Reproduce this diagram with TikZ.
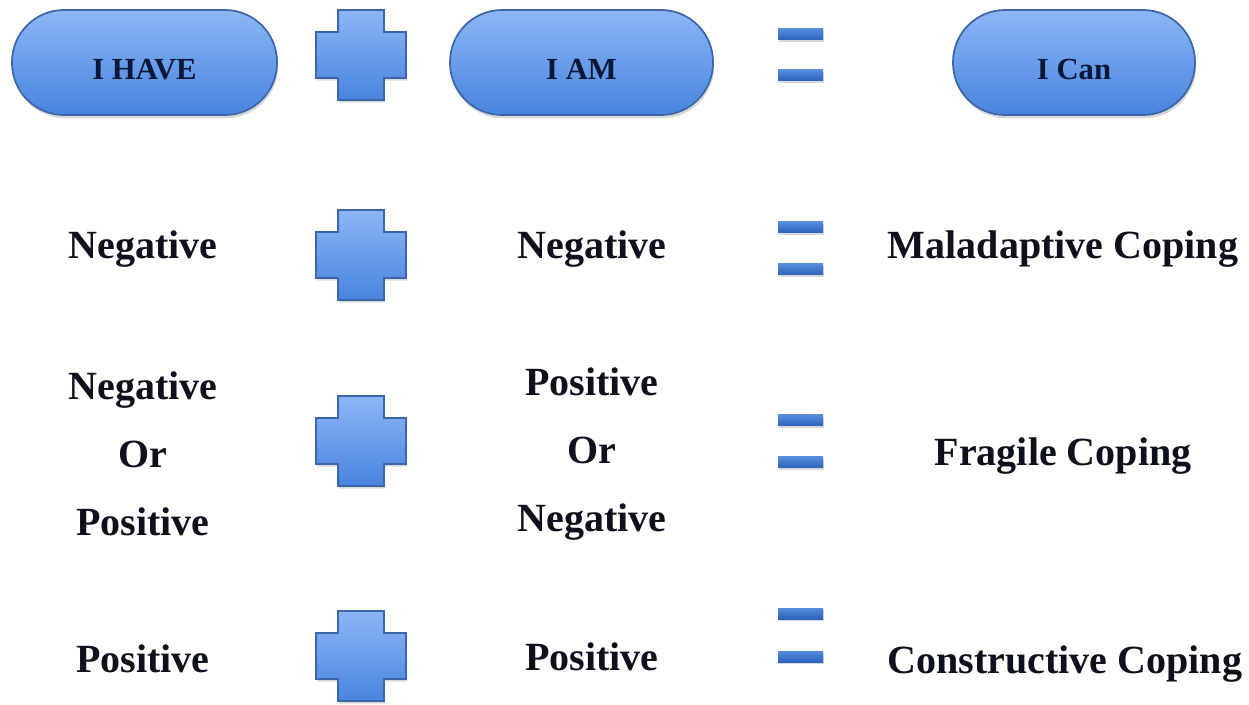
\documentclass[tikz,border=0pt]{standalone}
\usepackage{fontspec}
\setmainfont{Liberation Serif}
\usetikzlibrary{shadows}

\definecolor{pilltop}{RGB}{140,182,246}
\definecolor{pillbot}{RGB}{72,132,222}
\definecolor{pillline}{RGB}{60,102,168}
\definecolor{bartop}{RGB}{86,140,220}
\definecolor{barbot}{RGB}{44,98,188}
\definecolor{inktext}{RGB}{14,16,28}
\definecolor{pillink}{RGB}{10,24,58}

\tikzset{every picture/.style={line width=0.35pt}}
\tikzset{
  pill/.style={draw=pillline, line width=1.3pt, top color=pilltop, bottom color=pillbot,
    minimum height=78.75pt, rounded corners=39pt, text=pillink,
    text height=25.5pt, text depth=0pt,
    font=\fontsize{23}{27}\selectfont\bfseries,
    drop shadow={shadow xshift=0.8pt, shadow yshift=-2.5pt, opacity=0.3}},
  plusmark/.style={draw=pillline, line width=1.1pt, top color=pilltop, bottom color=pillbot,
    drop shadow={shadow xshift=0.8pt, shadow yshift=-2pt, opacity=0.3}},
  eqbar/.style={draw=none, top color=bartop, bottom color=barbot,
    drop shadow={shadow xshift=0.6pt, shadow yshift=-1.5pt, opacity=0.3}},
  word/.style={text=inktext, align=center, font=\fontsize{30}{51}\selectfont\bfseries}
}

\begin{document}
\begin{tikzpicture}[x=0.75pt,y=0.75pt,yscale=-1]
  \useasboundingbox[fill=white] (0,0) rectangle (1249,705);

  % header row
  \node [pill, minimum width=198.75pt] (have) at (144.5,62.5) {I HAVE};
  \node [pill, minimum width=197.25pt] (am) at (581.5,62.5) {I AM};
  \node [pill, minimum width=181.5pt] (can) at (1074,62.5) {I Can};

  % plus signs
  \draw [plusmark, shift={(361,55)}] (-23,-45) -- (23,-45) -- (23,-23) -- (45,-23) -- (45,23) -- (23,23) -- (23,45) -- (-23,45) -- (-23,23) -- (-45,23) -- (-45,-23) -- (-23,-23) -- cycle ;
  \draw [plusmark, shift={(361,255)}] (-23,-45) -- (23,-45) -- (23,-23) -- (45,-23) -- (45,23) -- (23,23) -- (23,45) -- (-23,45) -- (-23,23) -- (-45,23) -- (-45,-23) -- (-23,-23) -- cycle ;
  \draw [plusmark, shift={(361,441)}] (-23,-45) -- (23,-45) -- (23,-23) -- (45,-23) -- (45,23) -- (23,23) -- (23,45) -- (-23,45) -- (-23,23) -- (-45,23) -- (-45,-23) -- (-23,-23) -- cycle ;
  \draw [plusmark, shift={(361,656)}] (-23,-45) -- (23,-45) -- (23,-23) -- (45,-23) -- (45,23) -- (23,23) -- (23,45) -- (-23,45) -- (-23,23) -- (-45,23) -- (-45,-23) -- (-23,-23) -- cycle ;

  % equals signs
  \draw [eqbar] (778,29) rectangle (823,40) ;
  \draw [eqbar] (778,70) rectangle (823,81) ;
  \draw [eqbar] (778,222) rectangle (823,233) ;
  \draw [eqbar] (778,264) rectangle (823,275) ;
  \draw [eqbar] (778,415) rectangle (823,426) ;
  \draw [eqbar] (778,457) rectangle (823,468) ;
  \draw [eqbar] (778,608) rectangle (823,619) ;
  \draw [eqbar] (778,651) rectangle (823,662) ;

  % rows
  \node [word] (haveneg) at (143,249) {Negative};
  \node [word] (amneg) at (592,249) {Negative};
  \node [word] (canmal) at (1063,249) {Maladaptive Coping};

  \node [word] (havemix) at (143,454) {Negative\\Or\\Positive};
  \node [word] (ammix) at (592,454) {Positive\\Or\\Negative};
  \node [word] (canfrag) at (1063,456) {Fragile Coping};

  \node [word] (havepos) at (143,659) {Positive};
  \node [word] (ampos) at (592,657) {Positive};
  \node [word] (cancons) at (1065,664) {Constructive Coping};

\end{tikzpicture}
\end{document}
